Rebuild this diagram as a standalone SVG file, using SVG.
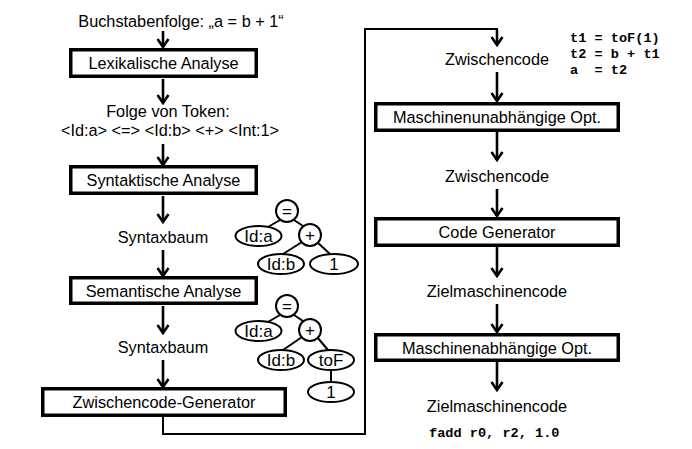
<svg xmlns="http://www.w3.org/2000/svg" width="692" height="449" viewBox="0 0 692 449">
<defs>
<marker id="ah" viewBox="-10 -7 12 14" markerWidth="12" markerHeight="14" refX="0" refY="0" orient="auto" markerUnits="userSpaceOnUse">
<path d="M-8,-5.5 L0,0 L-8,5.5" fill="none" stroke="#000" stroke-width="2.6"/>
</marker>
</defs>
<style>
.t{font-family:"Liberation Sans",Arial,sans-serif;font-size:16.3px;fill:#000;text-anchor:middle}
.m{font-family:"Liberation Mono","Courier New",monospace;font-size:13.6px;font-weight:bold;fill:#000}
.box{fill:#fff;stroke:#000;stroke-width:3.5}
.ar{stroke:#000;stroke-width:2.6;fill:none;marker-end:url(#ah)}
.cn{stroke:#000;stroke-width:2;fill:none}
.tn{fill:#fff;stroke:#000;stroke-width:2}
.tl{font-family:"Liberation Sans",Arial,sans-serif;font-size:17px;fill:#000;text-anchor:middle}
.te{stroke:#000;stroke-width:2}
</style>
<rect width="692" height="449" fill="#fff"/>
<g id="connectors">
<line class="ar" x1="163" y1="31" x2="163" y2="47"/>
<line class="ar" x1="163" y1="79" x2="163" y2="103"/>
<line class="ar" x1="163" y1="144" x2="163" y2="165"/>
<line class="ar" x1="163" y1="196" x2="163" y2="222"/>
<line class="ar" x1="163" y1="250" x2="163" y2="276"/>
<line class="ar" x1="163" y1="306" x2="163" y2="333"/>
<line class="ar" x1="163" y1="360" x2="163" y2="387"/>
<polyline class="cn" points="163,417 163,434 365,434 365,29 497,29 497,44"/>
<line class="ar" x1="497" y1="30" x2="497" y2="45"/>
<line class="ar" x1="497" y1="72" x2="497" y2="101"/>
<line class="ar" x1="497" y1="132" x2="497" y2="160"/>
<line class="ar" x1="497" y1="189" x2="497" y2="216"/>
<line class="ar" x1="497" y1="247" x2="497" y2="276"/>
<line class="ar" x1="497" y1="304" x2="497" y2="332"/>
<line class="ar" x1="497" y1="362" x2="497" y2="390"/>
</g>
<g id="input"><text class="t" x="181" y="27">Buchstabenfolge: „a = b + 1“</text></g>
<g id="lex"><rect class="box" x="70.75" y="49.75" width="185.5" height="26.5"/><text class="t" x="163.5" y="69">Lexikalische Analyse</text></g>
<g id="tokens"><text class="t" x="168" y="117">Folge von Token:</text><text class="t" x="170" y="136">&lt;Id:a&gt; &lt;=&gt; &lt;Id:b&gt; &lt;+&gt; &lt;Int:1&gt;</text></g>
<g id="syn"><rect class="box" x="70.75" y="166.75" width="185.5" height="26.5"/><text class="t" x="163.5" y="186">Syntaktische Analyse</text></g>
<g id="baum1"><text class="t" x="163" y="243">Syntaxbaum</text></g>
<g id="sem"><rect class="box" x="70.75" y="277.75" width="185.5" height="25.5"/><text class="t" x="163.5" y="297">Semantische Analyse</text></g>
<g id="baum2"><text class="t" x="163" y="353">Syntaxbaum</text></g>
<g id="zcg"><rect class="box" x="42.75" y="388.75" width="242.5" height="26.5"/><text class="t" x="164" y="408">Zwischencode-Generator</text></g>
<g id="tree1">
<line class="te" x1="280" y1="220" x2="268" y2="227"/>
<line class="te" x1="294" y1="220" x2="303" y2="226"/>
<line class="te" x1="302" y1="242" x2="283" y2="254"/>
<line class="te" x1="317" y1="242" x2="330" y2="254"/>
<circle class="tn" cx="287" cy="211" r="11"/><text class="tl" x="287" y="217">=</text>
<ellipse class="tn" cx="258.5" cy="236" rx="23" ry="10"/><text class="tl" x="258.5" y="242">Id:a</text>
<circle class="tn" cx="310" cy="235" r="11"/><text class="tl" x="310" y="241">+</text>
<ellipse class="tn" cx="281" cy="264" rx="23" ry="10"/><text class="tl" x="281" y="270">Id:b</text>
<ellipse class="tn" cx="334" cy="264" rx="24" ry="10"/><text class="tl" x="334" y="270">1</text>
</g>
<g id="tree2">
<line class="te" x1="280" y1="315" x2="268" y2="322"/>
<line class="te" x1="294" y1="315" x2="303" y2="321"/>
<line class="te" x1="302" y1="337" x2="283" y2="350"/>
<line class="te" x1="317" y1="337" x2="328" y2="350"/>
<line class="te" x1="331" y1="370" x2="331" y2="382"/>
<circle class="tn" cx="287" cy="306" r="11"/><text class="tl" x="287" y="312">=</text>
<ellipse class="tn" cx="258.5" cy="331" rx="23" ry="10"/><text class="tl" x="258.5" y="337">Id:a</text>
<circle class="tn" cx="310" cy="330" r="11"/><text class="tl" x="310" y="336">+</text>
<ellipse class="tn" cx="281" cy="360" rx="23" ry="10"/><text class="tl" x="281" y="366">Id:b</text>
<ellipse class="tn" cx="331" cy="360" rx="23" ry="10"/><text class="tl" x="331" y="366">toF</text>
<ellipse class="tn" cx="331" cy="392" rx="23" ry="10"/><text class="tl" x="331" y="398">1</text>
</g>
<g id="zc1"><text class="t" x="497" y="65">Zwischencode</text></g>
<g id="code1"><text class="m" x="570" y="42" xml:space="preserve">t1 = toF(1)</text><text class="m" x="570" y="58" xml:space="preserve">t2 = b + t1</text><text class="m" x="570" y="74" xml:space="preserve">a  = t2</text></g>
<g id="mopt"><rect class="box" x="375.75" y="103.75" width="242.5" height="26.5"/><text class="t" x="497" y="123">Maschinenunabhängige Opt.</text></g>
<g id="zc2"><text class="t" x="497" y="182">Zwischencode</text></g>
<g id="cg"><rect class="box" x="375.75" y="218.75" width="242.5" height="26.5"/><text class="t" x="497" y="238">Code Generator</text></g>
<g id="zm1"><text class="t" x="497" y="297">Zielmaschinencode</text></g>
<g id="mdopt"><rect class="box" x="375.75" y="334.75" width="242.5" height="25.5"/><text class="t" x="497" y="353.5">Maschinenabhängige Opt.</text></g>
<g id="zm2"><text class="t" x="497" y="412">Zielmaschinencode</text><text class="m" x="429" y="437" xml:space="preserve">fadd r0, r2, 1.0</text></g>
</svg>
